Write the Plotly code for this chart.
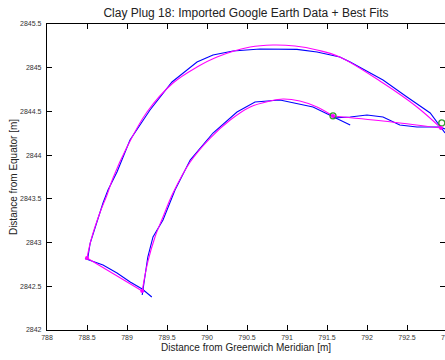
import plotly.graph_objects as go

# Digitised outline (Google Earth), x: east of Greenwich [m], y: north of Equator [m]
outer_x = [788.475, 788.51, 788.54, 788.61, 788.70, 788.7625, 788.875, 789.0375, 789.2875, 789.5625,
           789.875, 790.075, 790.325, 790.6625, 790.9125, 791.125, 791.375, 791.66, 791.79, 792.2,
           792.5, 792.79, 792.975]
outer_y = [2842.812, 2842.824, 2842.995, 2843.201, 2843.453, 2843.601, 2843.807, 2844.173, 2844.516, 2844.837,
           2845.065, 2845.145, 2845.191, 2845.214, 2845.214, 2845.21, 2845.18, 2845.123, 2845.065, 2844.859,
           2844.665, 2844.482, 2844.253]

inner_x = [789.19, 789.26, 789.325, 789.45, 789.6, 789.79, 790.075, 790.375, 790.6, 790.9125,
           791.325, 791.575, 791.79]
inner_y = [2842.40, 2842.835, 2843.064, 2843.258, 2843.601, 2843.944, 2844.253, 2844.493, 2844.608, 2844.631,
           2844.551, 2844.436, 2844.345]

base_x = [788.49, 788.70, 788.875, 789.04, 789.19, 789.31]
base_y = [2842.812, 2842.743, 2842.652, 2842.549, 2842.469, 2842.377]

neck_x = [791.575, 791.79, 792.0, 792.2, 792.41, 792.625, 792.91, 792.975]
neck_y = [2844.425, 2844.436, 2844.459, 2844.436, 2844.345, 2844.322, 2844.322, 2844.30]

# Best-fit curves
fit_outer_x = [788.5, 788.55, 788.66, 788.75, 788.825, 789.0, 789.25, 789.575, 789.875, 790.125,
               790.54, 790.825, 791.1, 791.375, 791.66, 792.2, 792.625, 792.925]
fit_outer_y = [2842.824, 2843.029, 2843.338, 2843.544, 2843.739, 2844.093, 2844.493, 2844.825, 2845.008, 2845.123,
               2845.237, 2845.26, 2845.248, 2845.203, 2845.123, 2844.825, 2844.551, 2844.31]

fit_inner_x = [789.19, 789.26, 789.35, 789.45, 789.575, 789.79, 790.04, 790.29, 790.54, 790.79,
               790.95, 791.16, 791.375, 791.575]
fit_inner_y = [2842.446, 2842.778, 2843.064, 2843.293, 2843.567, 2843.922, 2844.196, 2844.402, 2844.551, 2844.619,
               2844.642, 2844.619, 2844.551, 2844.448]

fit_base_x = [788.5, 789.19]
fit_base_y = [2842.824, 2842.446]

fit_neck_x = [791.575, 792.2, 792.925]
fit_neck_y = [2844.448, 2844.391, 2844.31]

# Fit end points and neck junctions
corner_x = [788.5, 789.19, 791.575, 792.925]
corner_y = [2842.824, 2842.446, 2844.448, 2844.31]
junction_x = [791.575, 792.935]
junction_y = [2844.45, 2844.368]

x_ticks = [788, 788.5, 789, 789.5, 790, 790.5, 791, 791.5, 792, 792.5, 793]
x_tick_text = ["788", "788.5", "789", "789.5", "790", "790.5", "791", "791.5", "792", "792.5", "793"]
y_ticks = [2842, 2842.5, 2843, 2843.5, 2844, 2844.5, 2845, 2845.5]
y_tick_text = ["2842", "2842.5", "2843", "2843.5", "2844", "2844.5", "2845", "2845.5"]

BLUE = "#0000ff"
MAGENTA = "#ff00ff"
GREEN = "#2e9a2e"
FONT = "Liberation Sans, Arial, sans-serif"

fig = go.Figure()

for xs, ys in [(outer_x, outer_y), (inner_x, inner_y), (base_x, base_y), (neck_x, neck_y)]:
    fig.add_trace(go.Scatter(x=xs, y=ys, mode="lines",
                             line=dict(color=BLUE, width=1.1), hoverinfo="skip"))

for xs, ys in [(fit_outer_x, fit_outer_y), (fit_inner_x, fit_inner_y),
               (fit_base_x, fit_base_y), (fit_neck_x, fit_neck_y)]:
    fig.add_trace(go.Scatter(x=xs, y=ys, mode="lines", line_shape="spline",
                             line=dict(color=MAGENTA, width=1.1), hoverinfo="skip"))

fig.add_trace(go.Scatter(x=junction_x, y=junction_y, mode="markers",
                         marker=dict(symbol="circle-open", size=6, color=GREEN,
                                     line=dict(width=1.3, color=GREEN))))
fig.add_trace(go.Scatter(x=corner_x, y=corner_y, mode="markers",
                         marker=dict(symbol="circle", size=4, color=MAGENTA)))

# invisible right-hand axis carrying the mirrored inward ticks
fig.add_trace(go.Scatter(x=[788], y=[2842], yaxis="y2", mode="markers",
                         marker=dict(opacity=0), hoverinfo="skip"))

fig.update_layout(
    width=445, height=360,
    margin=dict(l=47, r=0, t=24, b=30),
    paper_bgcolor="white", plot_bgcolor="white",
    showlegend=False,
    font=dict(family=FONT, color="black"),
    title=dict(text="Clay Plug 18: Imported Google Earth Data + Best Fits",
               x=0.5, xref="paper", xanchor="center", y=1 - 12.5 / 360, yanchor="middle",
               font=dict(size=12, family=FONT, color="#222")),
    xaxis=dict(range=[788, 788 + 398 / 80], tickvals=x_ticks, ticktext=x_tick_text,
               ticks="inside", ticklen=5, tickwidth=1, tickcolor="black",
               showline=True, linecolor="black", linewidth=1.2, mirror="ticks",
               showgrid=False, zeroline=False,
               tickfont=dict(size=7, family=FONT, color="#333"),
               title=dict(text="Distance from Greenwich Meridian [m]",
                          font=dict(size=10, family=FONT, color="#222"), standoff=4)),
    yaxis=dict(range=[2842, 2845.5], tickvals=y_ticks, ticktext=y_tick_text,
               ticks="inside", ticklen=5, tickwidth=1, tickcolor="black",
               showline=True, linecolor="black", linewidth=1.2,
               showgrid=False, zeroline=False, ticklabelstandoff=3,
               tickfont=dict(size=7, family=FONT, color="#333"),
               title=dict(text="Distance from Equator [m]",
                          font=dict(size=10, family=FONT, color="#222"), standoff=0)),
    yaxis2=dict(range=[2842, 2845.5], tickvals=y_ticks, overlaying="y", side="right",
                anchor="x", ticks="inside", ticklen=5, tickwidth=1, tickcolor="black",
                showticklabels=False, showline=False, showgrid=False, zeroline=False),
)

# the 793 label sits on the cut-off right edge of the frame
fig.add_annotation(text="793", x=1 + 2 / 398, xref="paper", y=-7 / 306, yref="paper",
                   xanchor="center", yanchor="middle", showarrow=False,
                   font=dict(size=7, family=FONT, color="#333"))

fig.write_html("out.html")
